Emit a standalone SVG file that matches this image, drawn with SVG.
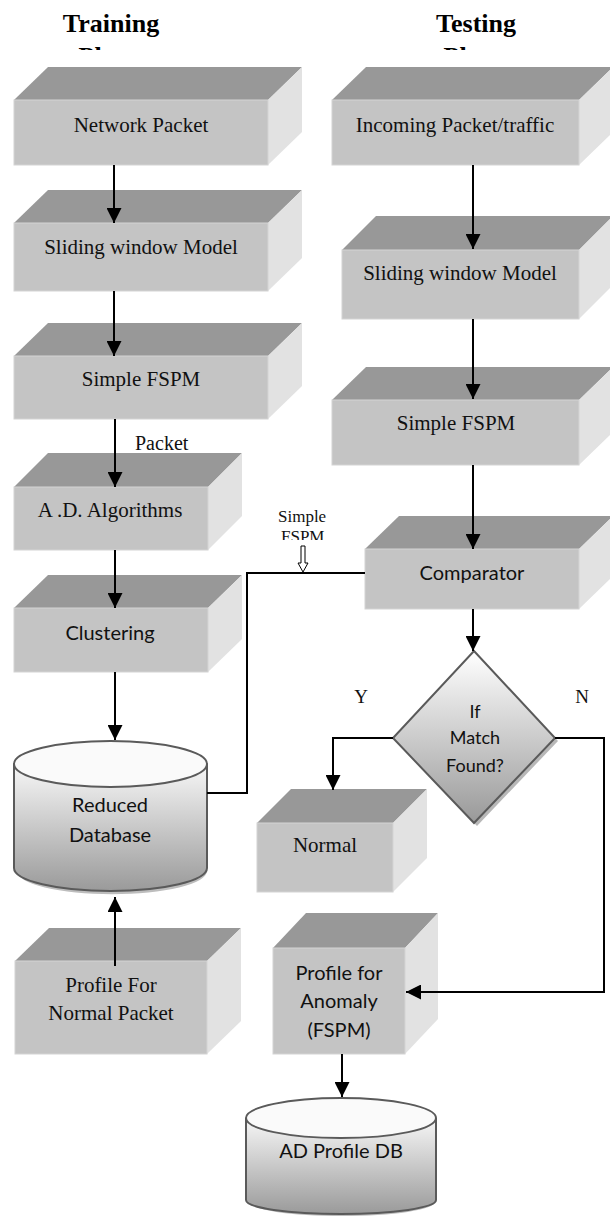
<svg xmlns="http://www.w3.org/2000/svg" width="610" height="1216" viewBox="0 0 610 1216">
<style>
.top{fill:#989898}
.front{fill:#c4c4c4;stroke:#d4d4d4;stroke-width:1}
.side{fill:#e2e2e2}
.serif{font-family:"Liberation Serif","Times New Roman",serif;fill:#111}
.sans{font-family:Lato,"Open Sans",sans-serif;fill:#111}
.hdr{font-family:"Liberation Serif","Times New Roman",serif;font-weight:bold;font-size:26px;fill:#000}
.c{text-anchor:middle}
.conn{fill:none;stroke:#000;stroke-width:2}
.db{stroke:#5a5a5a;stroke-width:2}
</style>
<defs>
<marker id="ah" markerUnits="userSpaceOnUse" markerWidth="15" markerHeight="15" refX="15" refY="7.5" orient="auto">
<path d="M0,0 L15,7.5 L0,15 z" fill="#000"/>
</marker>
<linearGradient id="cyl" x1="0" y1="0" x2="0" y2="1">
<stop offset="0" stop-color="#f7f7f7"/>
<stop offset="1" stop-color="#9a9a9a"/>
</linearGradient>
<linearGradient id="dia" x1="0" y1="0" x2="0" y2="1">
<stop offset="0" stop-color="#ffffff"/>
<stop offset="1" stop-color="#999999"/>
</linearGradient>
<clipPath id="phclip"><rect x="0" y="47" width="610" height="3"/></clipPath>
<clipPath id="fspmclip"><rect x="260" y="500" width="100" height="40"/></clipPath>
</defs>

<g id="headers">
<text class="hdr c" x="111" y="32">Training</text>
<text class="hdr c" x="476" y="32">Testing</text>
<g clip-path="url(#phclip)">
<text class="hdr c" x="111" y="65">Phase</text>
<text class="hdr c" x="476" y="65">Phase</text>
</g>
</g>

<g id="n-network-packet">
<polygon class="top" points="14,100 48,67 302,67 268,100"/>
<polygon class="side" points="268,100 302,67 302,132 268,165"/>
<rect class="front" x="14" y="100" width="254" height="65"/>
<text class="serif c" x="141" y="132" font-size="21">Network Packet</text>
</g>

<g id="n-sliding-left">
<polygon class="top" points="14,223 48,190 302,190 268,223"/>
<polygon class="side" points="268,223 302,190 302,258 268,291"/>
<rect class="front" x="14" y="223" width="254" height="68"/>
<text class="serif c" x="141" y="254" font-size="21">Sliding window Model</text>
</g>

<g id="n-fspm-left">
<polygon class="top" points="14,356 48,323 302,323 268,356"/>
<polygon class="side" points="268,356 302,323 302,386 268,419"/>
<rect class="front" x="14" y="356" width="254" height="63"/>
<text class="serif c" x="141" y="386" font-size="21">Simple FSPM</text>
</g>

<g id="n-ad-algorithms">
<polygon class="top" points="14,487 48,453 242,453 208,487"/>
<polygon class="side" points="208,487 242,453 242,516 208,550"/>
<rect class="front" x="14" y="487" width="194" height="63"/>
<text class="serif c" x="110" y="517" font-size="21">A .D. Algorithms</text>
</g>

<g id="n-clustering">
<polygon class="top" points="14,608 48,575 242,575 208,608"/>
<polygon class="side" points="208,608 242,575 242,639 208,672"/>
<rect class="front" x="14" y="608" width="194" height="64"/>
<text class="sans c" x="110" y="640" font-size="20">Clustering</text>
</g>

<g id="n-reduced-db">
<path d="M16,766 L16,868 A94,23 0 0 0 206,868 L206,766" fill="#bdbdbd" transform="translate(1,3)"/>
<path class="db" d="M14,764 L14,868 A96.5,23 0 0 0 207,868 L207,764" fill="url(#cyl)"/>
<ellipse class="db" cx="110.5" cy="764" rx="96.5" ry="23" fill="#fafafa"/>
<text class="sans c" x="110" y="812" font-size="20">Reduced</text>
<text class="sans c" x="110" y="842" font-size="20">Database</text>
</g>

<g id="n-profile-normal">
<polygon class="top" points="15,961 49,928 241,928 207,961"/>
<polygon class="side" points="207,961 241,928 241,1021 207,1054"/>
<rect class="front" x="15" y="961" width="192" height="93"/>
<text class="serif c" x="111" y="992" font-size="21">Profile For</text>
<text class="serif c" x="111" y="1020" font-size="21">Normal Packet</text>
</g>

<g id="n-incoming">
<polygon class="top" points="332,100 366,67 613,67 579,100"/>
<polygon class="side" points="579,100 613,67 613,132 579,165"/>
<rect class="front" x="332" y="100" width="247" height="65"/>
<text class="serif c" x="455" y="132" font-size="21">Incoming Packet/traffic</text>
</g>

<g id="n-sliding-right">
<polygon class="top" points="342,250 376,216 613,216 579,250"/>
<polygon class="side" points="579,250 613,216 613,285 579,319"/>
<rect class="front" x="342" y="250" width="237" height="69"/>
<text class="serif c" x="460" y="280" font-size="21">Sliding window Model</text>
</g>

<g id="n-fspm-right">
<polygon class="top" points="332,400 366,367 613,367 579,400"/>
<polygon class="side" points="579,400 613,367 613,432 579,465"/>
<rect class="front" x="332" y="400" width="247" height="65"/>
<text class="serif c" x="456" y="430" font-size="21">Simple FSPM</text>
</g>

<g id="n-comparator">
<polygon class="top" points="365,549 399,516 613,516 579,549"/>
<polygon class="side" points="579,549 613,516 613,576 579,609"/>
<rect class="front" x="365" y="549" width="214" height="60"/>
<text class="sans c" x="472" y="580" font-size="20">Comparator</text>
</g>

<g id="n-decision">
<polygon points="477,655 558,741 477,826 396,741" fill="#b8b8b8"/>
<polygon class="db" points="474,651 555,738 474,823 393,738" fill="url(#dia)"/>
<text class="sans c" x="475" y="718" font-size="18">If</text>
<text class="sans c" x="475" y="744" font-size="18">Match</text>
<text class="sans c" x="475" y="772" font-size="18">Found?</text>
</g>

<g id="n-normal">
<polygon class="top" points="257,823 291,789 427,789 393,823"/>
<polygon class="side" points="393,823 427,789 427,858 393,892"/>
<rect class="front" x="257" y="823" width="136" height="69"/>
<text class="serif c" x="325" y="852" font-size="21">Normal</text>
</g>

<g id="n-profile-anomaly">
<polygon class="top" points="273,948 306,913 438,913 405,948"/>
<polygon class="side" points="405,948 438,913 438,1019 405,1054"/>
<rect class="front" x="273" y="948" width="132" height="106"/>
<text class="sans c" x="339" y="980" font-size="20">Profile for</text>
<text class="sans c" x="339" y="1008" font-size="20">Anomaly</text>
<text class="sans c" x="339" y="1037" font-size="20">(FSPM)</text>
</g>

<g id="n-ad-profile-db">
<path d="M248,1120 L248,1200 A93,14 0 0 0 434,1200 L434,1120" fill="#bdbdbd" transform="translate(1,2)"/>
<path class="db" d="M246,1118 L246,1200 A95,14 0 0 0 436,1200 L436,1118" fill="url(#cyl)"/>
<ellipse class="db" cx="341" cy="1118" rx="95" ry="20" fill="#fafafa"/>
<text class="sans c" x="341" y="1158" font-size="20">AD Profile DB</text>
</g>

<g id="connectors">
<line class="conn" x1="114" y1="165" x2="114" y2="223" marker-end="url(#ah)"/>
<line class="conn" x1="114" y1="291" x2="114" y2="356" marker-end="url(#ah)"/>
<line class="conn" x1="115" y1="419" x2="115" y2="487" marker-end="url(#ah)"/>
<line class="conn" x1="115" y1="550" x2="115" y2="608" marker-end="url(#ah)"/>
<line class="conn" x1="115" y1="672" x2="115" y2="740" marker-end="url(#ah)"/>
<line class="conn" x1="115" y1="966" x2="115" y2="897" marker-end="url(#ah)"/>
<line class="conn" x1="473" y1="165" x2="473" y2="249" marker-end="url(#ah)"/>
<line class="conn" x1="473" y1="319" x2="473" y2="399" marker-end="url(#ah)"/>
<line class="conn" x1="473" y1="465" x2="473" y2="549" marker-end="url(#ah)"/>
<line class="conn" x1="473" y1="609" x2="473" y2="651" marker-end="url(#ah)"/>
<polyline class="conn" points="393,738 333,738 333,790" marker-end="url(#ah)"/>
<polyline class="conn" points="555,738 604,738 604,992 406,992" marker-end="url(#ah)"/>
<line class="conn" x1="342" y1="1054" x2="342" y2="1097" marker-end="url(#ah)"/>
<polyline class="conn" points="207,793 247,793 247,573 365,573"/>
<path d="M301,546 L305,546 L305,563 L308,563 L303,572 L298,563 L301,563 Z" fill="#fff" stroke="#000" stroke-width="1"/>
</g>

<g id="labels">
<text class="serif" x="135" y="450" font-size="20">Packet</text>
<text class="serif" x="278" y="522" font-size="17">Simple</text>
<text class="serif" x="281" y="542" font-size="17" clip-path="url(#fspmclip)">FSPM</text>
<text class="serif c" x="361" y="703" font-size="19">Y</text>
<text class="serif c" x="582" y="703" font-size="19">N</text>
</g>
</svg>
